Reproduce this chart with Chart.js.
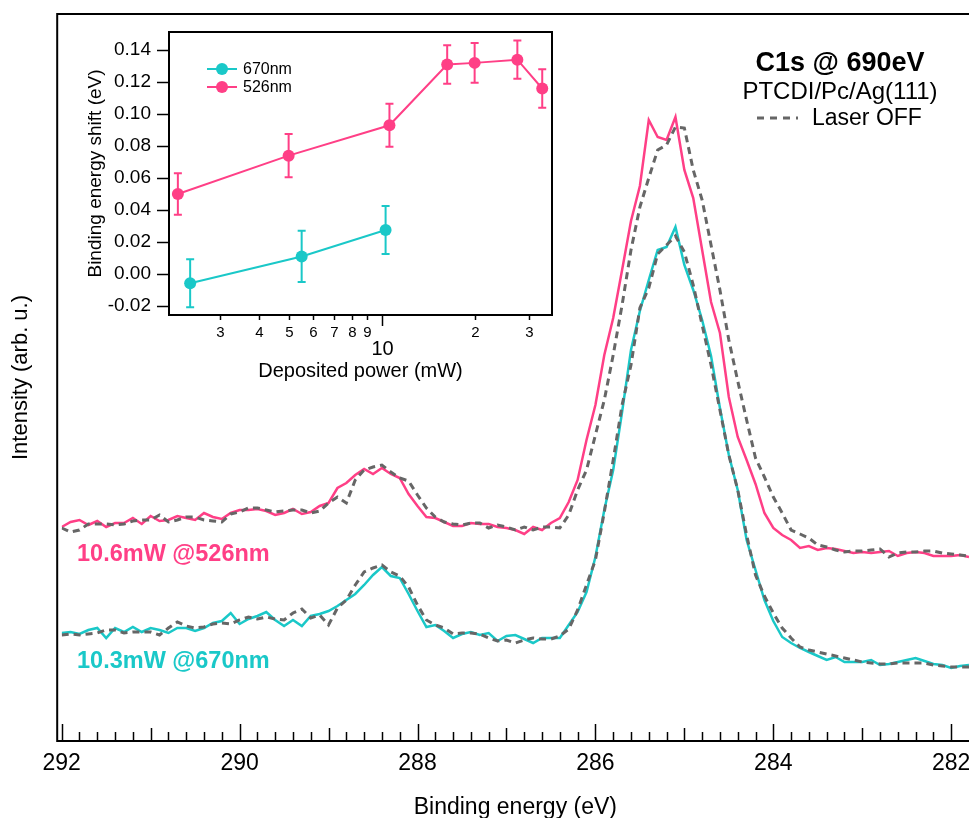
<!DOCTYPE html>
<html>
<head>
<meta charset="utf-8">
<script src="https://cdn.jsdelivr.net/npm/chart.js@4.4.0/dist/chart.umd.min.js"></script>
<style>
    body { margin: 0; background: #fff; font-family: 'Liberation Sans', Arial, sans-serif; }
    #wrap { position: relative; width: 969px; height: 818px; overflow: hidden; }
    #mainChart { position: absolute; left: 0; top: 0; }
    #insetChart { position: absolute; left: 70px; top: 20px; }
    .txt { position: absolute; white-space: nowrap; line-height: 1; }
</style>
</head>
<body>
<div id="wrap">
    <canvas id="mainChart" width="969" height="818"></canvas>
    <canvas id="insetChart" width="490" height="370"></canvas>
    <div class="txt" style="left:840px; top:62px; transform:translate(-50%,-50%); font-weight:bold; font-size:27px;">C1s @ 690eV</div>
    <div class="txt" style="left:840px; top:91px; transform:translate(-50%,-50%); font-size:24px;">PTCDI/Pc/Ag(111)</div>
    <div class="txt" style="left:812px; top:117px; transform:translateY(-50%); font-size:23px;">Laser OFF</div>
    <div class="txt" style="left:77px; top:554px; transform:translateY(-50%); font-weight:bold; font-size:23.5px; color:#FF3F86;">10.6mW @526nm</div>
    <div class="txt" style="left:77px; top:661px; transform:translateY(-50%); font-weight:bold; font-size:23.5px; color:#1AC8C8;">10.3mW @670nm</div>
</div>
<script>
// Espectros C1s (energía de enlace, paso de 0.1 eV desde 292.0 eV)
const energiaInicio = 292.0;
const energiaPaso = 0.1;

const espectro526 = [214, 219, 221, 216, 220, 214, 218, 218, 223, 217, 225, 220, 221, 225, 223, 221, 228, 224, 222, 228,
    231, 231, 232, 230, 226, 228, 232, 227, 229, 235, 238, 253, 258, 266, 272, 267, 273, 267, 263, 247,
    235, 224, 223, 219, 215, 215, 218, 217, 217, 214, 213, 211, 207, 214, 211, 218, 223, 239, 261, 301,
    336, 386, 423, 471, 520, 555, 621, 604, 601, 624, 571, 543, 491, 439, 408, 344, 304, 281, 257, 228,
    213, 206, 201, 193, 195, 191, 193, 192, 190, 188, 189, 188, 189, 190, 185, 188, 189, 188, 185, 185,
    185, 186, 184];
const laserOff526 = [213, 209, 211, 217, 217, 217, 216, 217, 220, 221, 221, 226, 219, 221, 224, 224, 221, 220, 219, 227,
    229, 233, 233, 231, 229, 230, 231, 231, 228, 230, 238, 244, 238, 261, 271, 274, 276, 269, 263, 260,
    246, 233, 224, 219, 217, 216, 218, 218, 213, 216, 214, 211, 214, 211, 214, 214, 213, 226, 251, 271,
    306, 341, 386, 436, 491, 534, 563, 591, 596, 614, 613, 571, 541, 496, 451, 401, 360, 321, 283, 264,
    244, 228, 211, 207, 203, 196, 194, 191, 189, 190, 190, 191, 192, 184, 188, 189, 189, 190, 190, 188,
    187, 186, 185];
const espectro670 = [108, 109, 107, 111, 113, 103, 113, 109, 114, 109, 113, 111, 108, 113, 113, 110, 113, 118, 120, 128,
    117, 122, 125, 129, 121, 115, 121, 115, 125, 127, 130, 135, 141, 147, 156, 166, 174, 165, 163, 147,
    130, 114, 116, 110, 103, 107, 109, 106, 108, 100, 105, 106, 102, 98, 103, 103, 103, 116, 129, 149,
    184, 231, 271, 329, 391, 430, 461, 491, 494, 514, 476, 451, 421, 385, 333, 286, 251, 201, 171, 141,
    120, 104, 98, 93, 89, 85, 81, 84, 79, 79, 79, 81, 76, 77, 79, 81, 83, 80, 77, 76,
    73, 75, 76];
const laserOff670 = [106, 107, 106, 107, 108, 111, 111, 108, 109, 109, 109, 106, 113, 119, 115, 113, 114, 117, 118, 117,
    121, 124, 122, 124, 122, 121, 128, 132, 123, 126, 116, 133, 141, 156, 169, 173, 176, 169, 165, 154,
    136, 121, 116, 113, 107, 108, 108, 107, 103, 100, 101, 98, 101, 103, 102, 102, 105, 112, 131, 156,
    181, 229, 281, 336, 376, 433, 453, 487, 496, 505, 489, 456, 416, 376, 331, 286, 251, 206, 166, 145,
    128, 113, 103, 94, 91, 89, 87, 85, 83, 81, 79, 78, 77, 77, 78, 78, 78, 78, 76, 75,
    74, 74, 74];
const ticksEnergia = [292, 290, 288, 286, 284, 282];

// Inset: desplazamiento de energía vs potencia depositada
const potencia526 = [2.19, 5.0, 10.6, 16.3, 20.0, 27.5, 33.1];
const shift526 = [0.050, 0.074, 0.093, 0.131, 0.132, 0.134, 0.116];
const error526 = [0.013, 0.0135, 0.0135, 0.012, 0.0125, 0.012, 0.012];
const potencia670 = [2.40, 5.51, 10.3];
const shift670 = [-0.0058, 0.011, 0.0275];
const error670 = [0.015, 0.016, 0.015];
const ticksShift = [-0.02, 0, 0.02, 0.04, 0.06, 0.08, 0.10, 0.12, 0.14];
const ticksPotencia = [3, 4, 5, 6, 7, 8, 9, 10, 20, 30];

const ROSA = '#FF3F86';
const CIAN = '#1AC8C8';
const GRIS = '#666666';
const FUENTE = "'Liberation Sans', Arial, sans-serif";

Chart.defaults.font.family = FUENTE;
Chart.defaults.color = '#000';

function aPuntos(valores) {
    return valores.map((v, i) => ({ x: +(energiaInicio - i * energiaPaso).toFixed(2), y: v }));
}

// sin reservar margen para las etiquetas de los extremos
function sinRelleno(s) {
    s.paddingLeft = 0;
    s.paddingRight = 0;
    s.paddingTop = 0;
    s.paddingBottom = 0;
}

// Marco, ticks interiores y leyenda "Laser OFF" del gráfico principal
const marcoPrincipal = {
    id: 'marcoPrincipal',
    afterDraw(chart) {
        const { ctx, chartArea: a, scales: { x } } = chart;
        const izq = a.left - 4.5;
        ctx.save();
        ctx.strokeStyle = '#000';
        ctx.lineWidth = 2;
        ctx.beginPath();
        ctx.moveTo(a.right, a.top);
        ctx.lineTo(izq, a.top);
        ctx.lineTo(izq, a.bottom);
        ctx.lineTo(a.right, a.bottom);
        ctx.stroke();

        ctx.lineWidth = 1.5;
        for (let i = 0; i <= 50; i++) {
            const e = 282 + i * 0.2;
            const px = Math.round(x.getPixelForValue(e)) + 0.5;
            const largo = i % 10 === 0 ? 17 : (i % 5 === 0 ? 13 : 9);
            ctx.beginPath();
            ctx.moveTo(px, a.bottom);
            ctx.lineTo(px, a.bottom - largo);
            ctx.stroke();
        }

        ctx.strokeStyle = GRIS;
        ctx.lineWidth = 3;
        ctx.setLineDash([7, 6]);
        ctx.beginPath();
        ctx.moveTo(757, 118);
        ctx.lineTo(798, 118);
        ctx.stroke();
        ctx.restore();
    }
};

new Chart(document.getElementById('mainChart'), {
    type: 'line',
    data: {
        datasets: [{
            label: 'Laser OFF 526',
            data: aPuntos(laserOff526),
            borderColor: GRIS,
            borderWidth: 3,
            borderDash: [7, 5]
        }, {
            label: 'Laser OFF 670',
            data: aPuntos(laserOff670),
            borderColor: GRIS,
            borderWidth: 3,
            borderDash: [7, 5]
        }, {
            label: '10.6mW @526nm',
            data: aPuntos(espectro526),
            borderColor: ROSA,
            borderWidth: 2.5
        }, {
            label: '10.3mW @670nm',
            data: aPuntos(espectro670),
            borderColor: CIAN,
            borderWidth: 2.5
        }]
    },
    options: {
        responsive: false,
        animation: false,
        devicePixelRatio: 1,
        elements: { point: { radius: 0 }, line: { tension: 0 } },
        layout: { padding: { top: 14, right: 0, left: 0, bottom: 0 } },
        plugins: { legend: { display: false }, tooltip: { enabled: false } },
        scales: {
            x: {
                type: 'linear',
                reverse: true,
                min: 281.8,
                max: 292,
                afterBuildTicks: s => { s.ticks = ticksEnergia.map(v => ({ value: v })); },
                afterFit: s => { s.height = 77; sinRelleno(s); },
                grid: { display: false, drawTicks: false },
                border: { display: false },
                ticks: { autoSkip: false, maxRotation: 0, padding: 9, font: { size: 23 }, callback: v => String(v) },
                title: { display: true, text: 'Binding energy (eV)', font: { size: 23 }, padding: { top: 0, bottom: -3 } }
            },
            y: {
                min: 0,
                max: 727,
                afterFit: s => { s.width = 61.7; sinRelleno(s); },
                grid: { display: false, drawTicks: false },
                border: { display: false },
                ticks: { display: false },
                title: { display: true, text: 'Intensity (arb. u.)', font: { size: 22 }, padding: { top: 8, bottom: 0 } }
            }
        }
    },
    plugins: [marcoPrincipal]
});

// Barras de error, marco, ticks y leyenda del inset
const extrasInset = {
    id: 'extrasInset',
    afterDatasetsDraw(chart) {
        const { ctx, scales: { y } } = chart;
        const errores = [error670, error526];
        ctx.save();
        chart.data.datasets.forEach((ds, d) => {
            const meta = chart.getDatasetMeta(d);
            ctx.strokeStyle = ds.borderColor;
            ctx.lineWidth = 2;
            meta.data.forEach((p, i) => {
                const v = ds.data[i].y;
                const arriba = y.getPixelForValue(v + errores[d][i]);
                const abajo = y.getPixelForValue(v - errores[d][i]);
                ctx.beginPath();
                ctx.moveTo(p.x, arriba); ctx.lineTo(p.x, abajo);
                ctx.moveTo(p.x - 4, arriba); ctx.lineTo(p.x + 4, arriba);
                ctx.moveTo(p.x - 4, abajo); ctx.lineTo(p.x + 4, abajo);
                ctx.stroke();
            });
        });
        ctx.restore();
    },
    afterDraw(chart) {
        const { ctx, chartArea: a, scales: { x, y } } = chart;
        ctx.save();
        ctx.strokeStyle = '#000';
        ctx.lineWidth = 2;
        ctx.strokeRect(a.left, a.top, a.right - a.left, a.bottom - a.top);

        ctx.lineWidth = 1.5;
        ticksShift.forEach(v => {
            const py = Math.round(y.getPixelForValue(v)) + 0.5;
            ctx.beginPath();
            ctx.moveTo(a.left, py);
            ctx.lineTo(a.left - 12, py);
            ctx.stroke();
        });

        ctx.fillStyle = '#000';
        ctx.textAlign = 'center';
        ctx.textBaseline = 'middle';
        ticksPotencia.forEach(v => {
            const px = Math.round(x.getPixelForValue(v)) + 0.5;
            const mayor = v === 10;
            ctx.beginPath();
            ctx.moveTo(px, a.bottom);
            ctx.lineTo(px, a.bottom + (mayor ? 11 : 5));
            ctx.stroke();
            if (mayor) {
                ctx.font = '20px ' + FUENTE;
                ctx.fillText('10', px, a.bottom + 34);
            } else {
                ctx.font = '15px ' + FUENTE;
                ctx.fillText(v >= 10 ? String(v / 10) : String(v), px, a.bottom + 18);
            }
        });

        // leyenda
        chart.data.datasets.forEach((ds, d) => {
            const ly = 49 + d * 18;
            ctx.strokeStyle = ds.borderColor;
            ctx.lineWidth = 2;
            ctx.beginPath();
            ctx.moveTo(137, ly);
            ctx.lineTo(167, ly);
            ctx.stroke();
            ctx.fillStyle = ds.borderColor;
            ctx.beginPath();
            ctx.arc(152, ly, 6, 0, Math.PI * 2);
            ctx.fill();
            ctx.fillStyle = '#000';
            ctx.font = '16px ' + FUENTE;
            ctx.textAlign = 'left';
            ctx.fillText(ds.label, 173, ly + 1);
        });
        ctx.restore();
    }
};

new Chart(document.getElementById('insetChart'), {
    type: 'line',
    data: {
        datasets: [{
            label: '670nm',
            data: potencia670.map((p, i) => ({ x: p, y: shift670[i] })),
            borderColor: CIAN,
            backgroundColor: CIAN,
            pointBackgroundColor: CIAN
        }, {
            label: '526nm',
            data: potencia526.map((p, i) => ({ x: p, y: shift526[i] })),
            borderColor: ROSA,
            backgroundColor: ROSA,
            pointBackgroundColor: ROSA
        }]
    },
    options: {
        responsive: false,
        animation: false,
        devicePixelRatio: 1,
        elements: {
            point: { radius: 6, borderWidth: 0 },
            line: { tension: 0, borderWidth: 2 }
        },
        datasets: { line: { clip: false } },
        layout: { padding: { top: 12, right: 8, left: 0, bottom: 0 } },
        plugins: { legend: { display: false }, tooltip: { enabled: false } },
        scales: {
            x: {
                type: 'logarithmic',
                min: 2.05,
                max: 35.6,
                afterFit: s => { s.height = 75; sinRelleno(s); },
                grid: { display: false, drawTicks: false },
                border: { display: false },
                ticks: { display: false },
                title: { display: true, text: 'Deposited power (mW)', font: { size: 20 }, padding: { top: 0, bottom: 7 } }
            },
            y: {
                min: -0.0256,
                max: 0.1513,
                afterBuildTicks: s => { s.ticks = ticksShift.map(v => ({ value: v })); },
                afterFit: s => { s.width = 99; sinRelleno(s); },
                grid: { display: false, drawTicks: false },
                border: { display: false },
                ticks: { padding: 18, font: { size: 19 }, callback: v => v.toFixed(2) },
                title: { display: true, text: 'Binding energy shift (eV)', font: { size: 19 }, padding: { top: 14, bottom: 0 } }
            }
        }
    },
    plugins: [extrasInset]
});
</script>
</body>
</html>
